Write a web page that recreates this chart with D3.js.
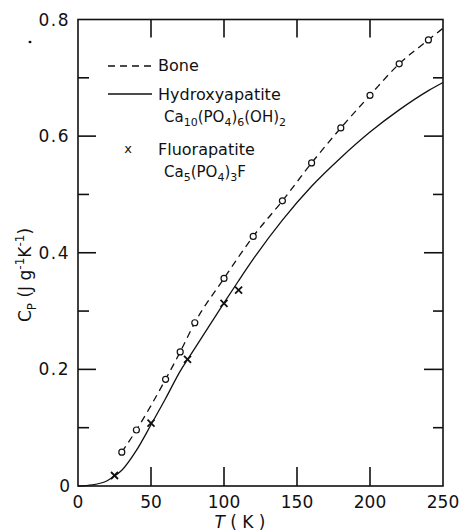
<!DOCTYPE html>
<html><head><meta charset="utf-8">
<script src="https://cdn.jsdelivr.net/npm/d3@7"></script>
<style>body{margin:0;background:#fff}svg{display:block}text{font-family:"DejaVu Sans",sans-serif;fill:#111}</style>
</head><body><svg id="c" width="461" height="531"></svg>
<script>
// Data
const boneT  = [30, 40, 60, 70, 80, 100, 120, 140, 160, 180, 200, 220, 240];
const boneCp = [0.058, 0.096, 0.183, 0.230, 0.280, 0.356, 0.428, 0.489, 0.554, 0.614, 0.670, 0.724, 0.765];
const boneLineT  = [30, 40, 60, 70, 80, 100, 120, 140, 160, 180, 200, 220, 240, 250];
const boneLineCp = [0.058, 0.096, 0.183, 0.230, 0.280, 0.356, 0.428, 0.489, 0.554, 0.614, 0.670, 0.724, 0.765, 0.785];
const hydroT  = [0, 10, 20, 25, 30, 40, 50, 60, 70, 80, 90, 100, 110, 120, 140, 160, 180, 200, 220, 240, 250];
const hydroCp = [0, 0.002, 0.009, 0.017, 0.027, 0.061, 0.105, 0.150, 0.197, 0.236, 0.275, 0.314, 0.352, 0.389, 0.456, 0.514, 0.563, 0.607, 0.645, 0.678, 0.692];
const fluorT  = [25, 50, 75, 100, 110];
const fluorCp = [0.018, 0.108, 0.217, 0.313, 0.336];
const xTicks = [0, 50, 100, 150, 200, 250];
const yTickLabels = [0, 0.2, 0.4, 0.6, 0.8];
const yMinor = [0.1, 0.3, 0.5, 0.7];

const svg = d3.select("#c");
const x = d3.scaleLinear().domain([0, 250]).range([78, 443]);
const y = d3.scaleLinear().domain([0, 0.8]).range([486, 19.5]);
const g = svg.append("g");

// frame
g.append("rect").attr("x", x(0)).attr("y", y(0.8)).attr("width", x(250)-x(0)).attr("height", y(0)-y(0.8))
 .attr("fill","none").attr("stroke","#111").attr("stroke-width",1.6);

// ticks
const tk = (x1,y1,x2,y2)=>g.append("line").attr("x1",x1).attr("y1",y1).attr("x2",x2).attr("y2",y2).attr("stroke","#111").attr("stroke-width",1.6);
xTicks.slice(1,-1).forEach(t=>{ tk(x(t), y(0), x(t), y(0)-19); tk(x(t), y(0.8), x(t), y(0.8)+18); });
yTickLabels.slice(1,-1).forEach(v=>{ tk(x(0), y(v), x(0)+18, y(v)); tk(x(250), y(v), x(250)-19, y(v)); });
yMinor.forEach(v=>{ tk(x(0), y(v), x(0)+11, y(v)); tk(x(250), y(v), x(250)-10, y(v)); });

// tick labels
xTicks.forEach(t=>g.append("text").attr("x", x(t)).attr("y", 508).attr("text-anchor","middle").attr("font-size",17).text(t));
yTickLabels.forEach(v=>g.append("text").attr("x", 70).attr("y", y(v)+6).attr("text-anchor","end").attr("font-size",17).attr("letter-spacing",v===0?0:1.5).text(v===0?"0":v.toFixed(1)));

// axis titles
const xt = g.append("text").attr("x", 240).attr("y", 528).attr("text-anchor","middle").attr("font-size",17);
xt.append("tspan").attr("font-style","italic").text("T");
xt.append("tspan").text(" ( K )");
const yt = g.append("text").attr("transform","translate(31,275) rotate(-90)").attr("text-anchor","middle").attr("font-size",17);
yt.append("tspan").text("C");
yt.append("tspan").attr("font-size",12).attr("dy",5).text("P");
yt.append("tspan").attr("dy",-5).text(" (J g");
yt.append("tspan").attr("font-size",12).attr("dy",-7).text("-1");
yt.append("tspan").attr("dy",7).text("K");
yt.append("tspan").attr("font-size",12).attr("dy",-7).text("-1");
yt.append("tspan").attr("dy",7).text(")");

// lines
const line = d3.line().x(d=>x(d[0])).y(d=>y(d[1])).curve(d3.curveMonotoneX);
g.append("path").datum(hydroT.map((t,i)=>[t,hydroCp[i]])).attr("d", line)
 .attr("fill","none").attr("stroke","#111").attr("stroke-width",1.3);
g.append("path").datum(boneLineT.map((t,i)=>[t,boneLineCp[i]])).attr("d", line)
 .attr("fill","none").attr("stroke","#111").attr("stroke-width",1.3).attr("stroke-dasharray","7,5");

// bone circles
g.selectAll("circle.b").data(boneT.map((t,i)=>[t,boneCp[i]])).enter().append("circle")
 .attr("cx",d=>x(d[0])).attr("cy",d=>y(d[1])).attr("r",3).attr("fill","#fff").attr("stroke","#111").attr("stroke-width",1.2);

// crosses
const cross = (cx,cy,s)=>{ const p=d3.path(); p.moveTo(cx-s,cy-s); p.lineTo(cx+s,cy+s); p.moveTo(cx+s,cy-s); p.lineTo(cx-s,cy+s); return p.toString(); };
fluorT.forEach((t,i)=>g.append("path").attr("d",cross(x(t),y(fluorCp[i]),3.5)).attr("stroke","#111").attr("stroke-width",1.8));

// legend
g.append("line").attr("x1",108).attr("x2",152).attr("y1",66).attr("y2",66).attr("stroke","#111").attr("stroke-width",1.3).attr("stroke-dasharray","7,5");
g.append("text").attr("x",158).attr("y",71).attr("font-size",16).text("Bone");
g.append("line").attr("x1",108).attr("x2",152).attr("y1",94).attr("y2",94).attr("stroke","#111").attr("stroke-width",1.3);
g.append("text").attr("x",158).attr("y",100).attr("font-size",16).text("Hydroxyapatite");
const f1 = g.append("text").attr("x",164).attr("y",122).attr("font-size",15);
f1.append("tspan").text("Ca");
f1.append("tspan").attr("font-size",11).attr("dy",4).text("10");
f1.append("tspan").attr("dy",-4).text("(PO");
f1.append("tspan").attr("font-size",11).attr("dy",4).text("4");
f1.append("tspan").attr("dy",-4).text(")");
f1.append("tspan").attr("font-size",11).attr("dy",4).text("6");
f1.append("tspan").attr("dy",-4).text("(OH)");
f1.append("tspan").attr("font-size",11).attr("dy",4).text("2");
g.append("text").attr("x",128).attr("y",153).attr("text-anchor","middle").attr("font-size",13).text("x");
g.append("text").attr("x",158).attr("y",155).attr("font-size",16).text("Fluorapatite");
const f2 = g.append("text").attr("x",164).attr("y",177).attr("font-size",15);
f2.append("tspan").text("Ca");
f2.append("tspan").attr("font-size",11).attr("dy",4).text("5");
f2.append("tspan").attr("dy",-4).text("(PO");
f2.append("tspan").attr("font-size",11).attr("dy",4).text("4");
f2.append("tspan").attr("dy",-4).text(")");
f2.append("tspan").attr("font-size",11).attr("dy",4).text("3");
f2.append("tspan").attr("dy",-4).text("F");

// stray scan speck
g.append("ellipse").attr("cx",30).attr("cy",42).attr("rx",1.5).attr("ry",1.2).attr("fill","#111");
</script></body></html>
